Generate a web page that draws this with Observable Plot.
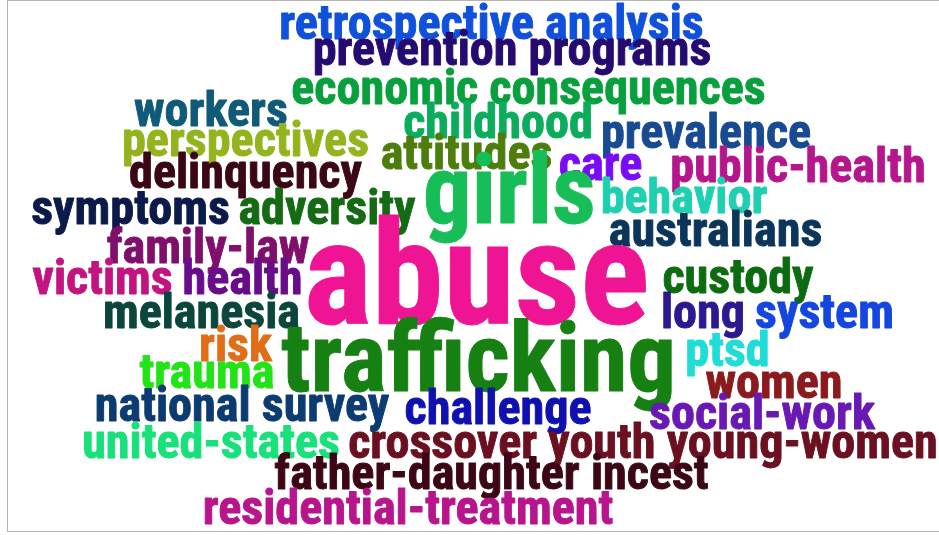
<!DOCTYPE html>
<html><head><meta charset="utf-8">
<script src="https://cdn.jsdelivr.net/npm/d3@7"></script>
<script src="https://cdn.jsdelivr.net/npm/@observablehq/plot@0.6"></script>
<style>
body{margin:0;background:#fff;}
#frame{position:absolute;left:7px;top:0;width:1000px;height:530px;border:1.5px solid #b4b4b4;}
#chart{position:absolute;left:0;top:0;}
</style>
</head><body>
<div id="frame"></div>
<div id="chart"></div>
<script>
// Word cloud terms, layout centre (x) and baseline (y) in layout units, frequency weight, colour
const words = ["retrospective analysis","prevention programs","economic consequences","workers","childhood","prevalence","perspectives","attitudes","care","public-health","delinquency","girls","behavior","symptoms","adversity","australians","family-law","abuse","victims","health","custody","melanesia","long","system","risk","trafficking","ptsd","trauma","women","national survey","challenge","social-work","united-states","crossover youth young-women","father-daughter incest","residential-treatment"];
const layoutX = [491,511.5,528,210.5,497.5,705.5,245,466,600,797.5,245,509,683.5,130,326.5,715,207.5,476,102,242,737.5,201,702.5,824,235,478,727,206.5,773.5,241.5,497.5,761.5,210.5,642.5,491,407.5];
const layoutY = [38,64,103,125,137,147,155,168,179,181,187,222,212,223,223,245,262,323,293,293,292,327,327,327,360,390,365,387,397,420,423,428,457,457,488,523];
const freq = [1,1,1,1,1,1,1,1,1,1,1,2,1,1,1,1,1,3,1,1,1,1,1,1,1,2,1,1,1,1,1,1,1,1,1,1];
const colors = ["#0f50dc","#250b70","#08a03c","#0e5a78","#0bad5c","#184a92","#94b41e","#4d7d0a","#7a0cf5","#b6168c","#3a0814","#17bd57","#1ed0b0","#0c1a4a","#146b14","#0c355a","#800f6c","#ef1493","#c2137e","#690c8a","#0e6c10","#0a463c","#2c1890","#1446e0","#e06e18","#168012","#1edcd6","#22e218","#8a1a1c","#0c3b72","#1010b0","#6a18b4","#18e07a","#6b1020","#3c0614","#b8148c"];

const FONT = "Roboto Condensed";
const BASE_SIZE = 48.2;
const data = words.map((w,i)=>({word:w, x:layoutX[i], y:layoutY[i], size:freq[i]*BASE_SIZE, color:colors[i]}));
const chart = Plot.plot({
  width: 939, height: 535, margin: 0,
  x: {domain:[0,939], range:[0,939], axis:null},
  y: {domain:[0,535], range:[0,535], axis:null},
  marks: [
    Plot.text(data, {x:"x", y:"y", text:"word", fontSize:"size", fill:"color", stroke:"color", strokeWidth:0.9,
      strokeLinejoin:"round", textAnchor:"middle", lineAnchor:"bottom", fontFamily:FONT, fontWeight:"bold"})
  ]
});
chart.style.background = "transparent";
document.getElementById("chart").append(chart);
</script></body></html>
